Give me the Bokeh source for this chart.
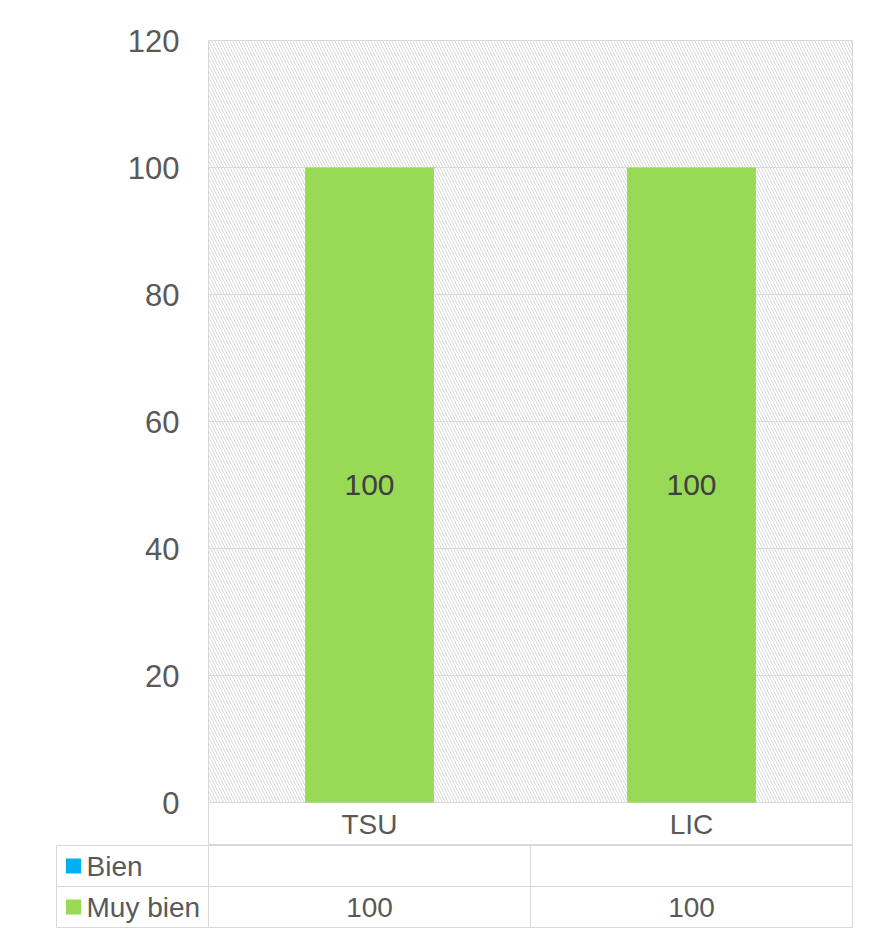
from bokeh.plotting import figure
from bokeh.models import Range1d, FixedTicker, ColumnDataSource
from bokeh.embed import file_html
from bokeh.resources import INLINE
from bokeh.core.properties import value

categories = ["TSU", "LIC"]
series_names = ["Bien", "Muy bien"]
bien = [0, 0]
muy_bien = [100, 100]
series_colors = ["#00B0F0", "#98D955"]
y_ticks = [0, 20, 40, 60, 80, 100, 120]

FONT = "Liberation Sans"
GRID = "#d9d9d9"
TXT = "#595959"

xs = [i + 0.5 for i in range(len(categories))]
src = ColumnDataSource(dict(x=xs, cat=categories, bien=bien, muy_bien=muy_bien,
                            lbl=[str(v) for v in muy_bien],
                            mid=[b + m / 2 for b, m in zip(bien, muy_bien)]))

y_lo = -43 / 762 * 120
p = figure(width=877, height=845, x_range=Range1d(0, len(categories)),
           y_range=Range1d(y_lo, 120), x_axis_type=None,
           min_border_left=208, min_border_right=25, min_border_top=40, min_border_bottom=0,
           output_backend="svg", toolbar_location=None)
p.outline_line_color = GRID
p.outline_line_width = 1
p.background_fill_color = "white"
p.border_fill_color = "white"

# hatched plot area
p.quad(left=[0], right=[len(categories)], bottom=[0], top=[120], fill_alpha=0,
       line_color=None, hatch_pattern="\\", hatch_color="#dadada", hatch_scale=6,
       hatch_weight=1, hatch_alpha=1.0)

p.vbar_stack(["bien", "muy_bien"], x="x", width=0.4, source=src,
             color=series_colors, line_color=None)

p.text(x="x", y="mid", text="lbl", source=src, text_align="center",
       text_baseline="middle", text_font=value(FONT), text_font_size="30px",
       text_color="#404040")

# category row of the data table
p.text(x="x", y=y_lo / 2, text="cat", source=src, text_align="center",
       text_baseline="middle", text_font=value(FONT), text_font_size="28px",
       text_color=TXT)

p.yaxis.ticker = FixedTicker(ticks=y_ticks)
p.yaxis.axis_line_color = None
p.yaxis.major_tick_line_color = None
p.yaxis.minor_tick_line_color = None
p.yaxis.major_label_standoff = 23
p.yaxis.major_label_text_font = FONT
p.yaxis.major_label_text_font_size = "31px"
p.yaxis.major_label_text_color = TXT

p.ygrid.ticker = FixedTicker(ticks=y_ticks)
p.ygrid.grid_line_color = GRID
p.xgrid.ticker = FixedTicker(ticks=list(range(1, len(categories))))
p.xgrid.grid_line_color = GRID

# lower rows of the data table
lo = -152 / 322
t = figure(width=877, height=88, x_range=Range1d(lo, len(categories)), y_range=Range1d(0, 2),
           x_axis_type=None, y_axis_type=None,
           min_border_left=56, min_border_right=25, min_border_top=0, min_border_bottom=6,
           output_backend="svg", toolbar_location=None)
t.outline_line_color = GRID
t.xgrid.visible = False
t.ygrid.visible = False
t.border_fill_color = "white"

t.segment(x0=[0, 1], y0=[0, 0], x1=[0, 1], y1=[2, 2], line_color=GRID, line_width=1)
t.segment(x0=[lo], y0=[1], x1=[len(categories)], y1=[1], line_color=GRID, line_width=1)

row_y = [1.5, 0.5]
t.scatter(x=[lo + 17 / 322] * 2, y=row_y, marker="square", size=15,
          color=series_colors, line_color=None)
t.text(x=[lo + 30 / 322] * 2, y=row_y, text=series_names, text_align="left",
       text_baseline="middle", text_font=value(FONT), text_font_size="28px", text_color=TXT)

for vals, yy in zip([bien, muy_bien], row_y):
    t.text(x=xs, y=[yy] * len(xs), text=["" if v == 0 else str(v) for v in vals],
           text_align="center", text_baseline="middle", text_font=value(FONT),
           text_font_size="28px", text_color=TXT)

open("out.html", "w").write(file_html([p, t], INLINE))
